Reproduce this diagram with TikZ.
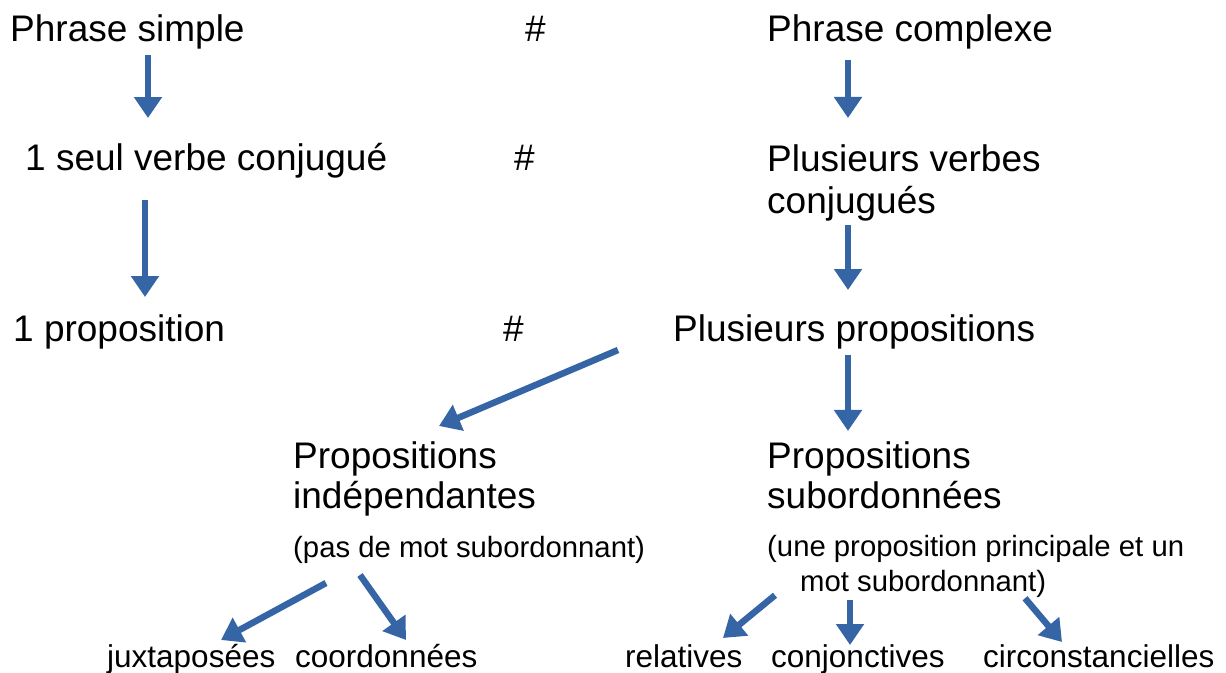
\documentclass[tikz,border=0pt]{standalone}
\usepackage{fontspec}
\setmainfont{Liberation Sans}
\usetikzlibrary{arrows.meta,calc}
\definecolor{arrowblue}{RGB}{54,101,166}

\begin{document}
\begin{tikzpicture}[
    x=1pt, y=-1pt,
    big/.style={anchor=base west, inner sep=0pt, align=left,
                font=\fontsize{37}{42}\selectfont},
    head/.style={big, font=\fontsize{37}{40}\selectfont},
    note/.style={anchor=base west, inner sep=0pt, align=left,
                 font=\fontsize{29.3}{35}\selectfont},
    leaf/.style={anchor=base west, inner sep=0pt,
                 font=\fontsize{31.5}{38}\selectfont},
    arr/.style={-{Triangle[length=21pt,width=27pt]}, line width=6.5pt,
                draw=arrowblue},
  ]
  \useasboundingbox (0,0) rectangle (1226,672);

  % columns of the vertical arrows
  \coordinate (colA) at (148,0);
  \coordinate (colB) at (848,0);
  \coordinate (colC) at (145,0);
  \coordinate (colD) at (850,0);

  % multi-line nodes sit on the baseline of their last line
  \node[big] (simple) at (10,41) {Phrase simple};
  \node[big] (hashA) at (525,41) {\#};
  \node[big] (complexe) at (767,41) {Phrase complexe};

  \node[big] (seul) at (25,170) {1 seul verbe conjugué};
  \node[big] (hashB) at (514,170) {\#};
  \node[big] (plusverb) at (767,213) {Plusieurs verbes\\conjugués};

  \node[big] (oneprop) at (13,341) {1 proposition};
  \node[big] (hashC) at (503,341) {\#};
  \node[big] (plusprop) at (673,341) {Plusieurs propositions};

  \node[head] (indep) at (293,508) {Propositions\\indépendantes};
  \node[note] (indepnote) at (293,557) {(pas de mot subordonnant)};
  \node[head] (subord) at (767,508) {Propositions\\subordonnées};
  \node[note] (subnote) at (767,591)
        {(une proposition principale et un\\\hspace*{33pt}mot subordonnant)};

  \node[leaf] (juxta) at (107,667) {juxtaposées};
  \node[leaf] (coord) at (295,667) {coordonnées};
  \node[leaf] (relat) at (625,667) {relatives};
  \node[leaf] (conj) at (771,667) {conjonctives};
  \node[leaf] (circ) at (983,667) {circonstancielles};

  \draw[arr] ($(simple.base -| colA)+(0,14)$) -- ($(seul.base -| colA)+(0,-52)$);
  \draw[arr] ($(complexe.base -| colB)+(0,19)$) -- ($(plusverb.north -| colB)+(0,-26)$);
  \draw[arr] ($(seul.base -| colC)+(0,30)$) -- ($(oneprop.base -| colC)+(0,-44)$);
  \draw[arr] ($(plusverb.south -| colB)+(0,4)$) -- ($(plusprop.base -| colB)+(0,-51)$);
  \draw[arr] ($(plusprop.base west)+(-55,9)$) -- ($(indep.north west)+(146,-15)$);
  \draw[arr] ($(plusprop.base -| colB)+(0,14)$) -- ($(subord.north -| colB)+(0,-10)$);

  \draw[arr] ($(indepnote.base west)+(33,26)$) -- ($(juxta.base west)+(114,-27)$);
  \draw[arr] ($(indepnote.base west)+(67,18)$) -- ($(coord.base west)+(111,-27)$);
  \draw[arr] ($(subnote.south west)+(8,-2)$) -- ($(relat.base west)+(98,-29)$);
  \draw[arr] ($(subnote.south -| colD)+(0,3)$) -- ($(conj.base -| colD)+(0,-22)$);
  \draw[arr] ($(subnote.south west)+(258,1)$) -- ($(circ.base west)+(79,-25)$);
\end{tikzpicture}
\end{document}
